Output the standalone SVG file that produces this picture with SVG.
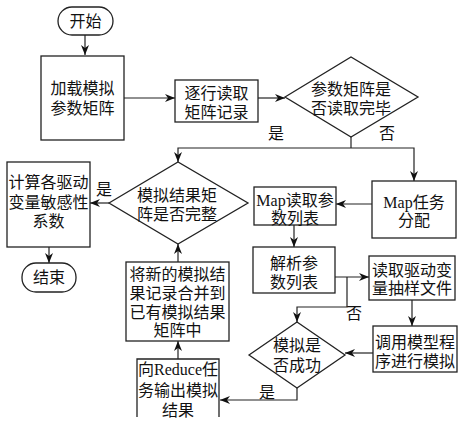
<svg xmlns="http://www.w3.org/2000/svg" width="468" height="431" viewBox="0 0 468 431">
<defs>
<marker id="ah" viewBox="0 0 10 8" refX="10" refY="4" markerWidth="10" markerHeight="8" markerUnits="userSpaceOnUse" orient="auto">
<path d="M0,0 L10,4 L0,8 L3,4 z" fill="#111"/>
</marker>
<style>
.n{fill:#fff;stroke:#222;stroke-width:1.3}
.t{font-family:"Liberation Serif","Noto Sans CJK SC",serif;font-size:16px;fill:#111;text-anchor:middle}
.c{fill:none;stroke:#222;stroke-width:1.2}
.a{marker-end:url(#ah)}
</style>
</defs>
<rect width="468" height="431" fill="#fff"/>
<g id="connectors">
<path class="c a" d="M85,35 V55"/>
<path class="c a" d="M124,98 H175"/>
<path class="c a" d="M258,98 H285"/>
<path class="c" d="M351,137 V148"/>
<path class="c a" d="M351,148 H178 V162"/>
<path class="c a" d="M351,148 H414 V181"/>
<path class="c a" d="M372,204 H336"/>
<path class="c a" d="M294,225 V247"/>
<path class="c a" d="M335,277 H369"/>
<path class="c a" d="M347,277 V307 H297 V322"/>
<path class="c a" d="M412,300 V326"/>
<path class="c a" d="M373,353 H345"/>
<path class="c a" d="M297,388 V400 H220"/>
<path class="c a" d="M178,359 V341"/>
<path class="c a" d="M178,262 V244"/>
<path class="c a" d="M109,203 H90"/>
<path class="c a" d="M49,247 V263"/>
<text class="t" x="276" y="139">是</text>
<text class="t" x="387" y="139">否</text>
<text class="t" x="354" y="319">否</text>
<text class="t" x="267" y="398">是</text>
<text class="t" x="104" y="195">是</text>
</g>
<g id="start">
<rect class="n" x="58" y="7" width="55" height="28" rx="14"/>
<text class="t" x="85.5" y="27">开始</text>
</g>
<g id="load">
<rect class="n" x="41" y="56" width="83" height="84"/>
<text class="t" x="82.5" y="94">加载模拟</text>
<text class="t" x="82.5" y="114">参数矩阵</text>
</g>
<g id="readrow">
<rect class="n" x="175" y="80" width="83" height="42"/>
<text class="t" x="216.5" y="99">逐行读取</text>
<text class="t" x="216.5" y="118">矩阵记录</text>
</g>
<g id="done">
<polygon class="n" points="285,97 351,57 418,97 351,137"/>
<text class="t" x="351" y="95">参数矩阵是</text>
<text class="t" x="351" y="114">否读取完毕</text>
</g>
<g id="maptask">
<rect class="n" x="372" y="181" width="84" height="57"/>
<text class="t" x="414" y="208">Map任务</text>
<text class="t" x="414" y="226">分配</text>
</g>
<g id="mapread">
<rect class="n" x="254" y="187" width="82" height="38"/>
<text class="t" x="295" y="206">Map读取参</text>
<text class="t" x="295" y="224">数列表</text>
</g>
<g id="parse">
<rect class="n" x="253" y="247" width="82" height="46"/>
<text class="t" x="294" y="269">解析参</text>
<text class="t" x="294" y="288">数列表</text>
</g>
<g id="readsample">
<rect class="n" x="369" y="256" width="86" height="44"/>
<text class="t" x="412" y="276">读取驱动变</text>
<text class="t" x="412" y="294">量抽样文件</text>
</g>
<g id="runmodel">
<rect class="n" x="373" y="326" width="84" height="46"/>
<text class="t" x="415" y="348">调用模型程</text>
<text class="t" x="415" y="367">序进行模拟</text>
</g>
<g id="success">
<polygon class="n" points="249,355 297,322 345,355 297,388"/>
<text class="t" x="297" y="351">模拟是</text>
<text class="t" x="297" y="371">否成功</text>
</g>
<g id="reduce">
<path class="n" d="M137,417 V359 H219 V417"/>
<text class="t" x="178" y="375">向Reduce任</text>
<text class="t" x="178" y="396">务输出模拟</text>
<text class="t" x="178" y="416">结果</text>
</g>
<g id="merge">
<rect class="n" x="126" y="262" width="103" height="79"/>
<text class="t" x="177.5" y="280">将新的模拟结</text>
<text class="t" x="177.5" y="299">果记录合并到</text>
<text class="t" x="177.5" y="318">已有模拟结果</text>
<text class="t" x="177.5" y="336">矩阵中</text>
</g>
<g id="complete">
<polygon class="n" points="109,203 178,162 248,203 178,244"/>
<text class="t" x="177" y="201">模拟结果矩</text>
<text class="t" x="177" y="220">阵是否完整</text>
</g>
<g id="calc">
<rect class="n" x="7" y="162" width="83" height="85"/>
<text class="t" x="48.5" y="188">计算各驱动</text>
<text class="t" x="48.5" y="208">变量敏感性</text>
<text class="t" x="48.5" y="227">系数</text>
</g>
<g id="end">
<rect class="n" x="22" y="263" width="54" height="29" rx="14"/>
<text class="t" x="49" y="283">结束</text>
</g>
</svg>
